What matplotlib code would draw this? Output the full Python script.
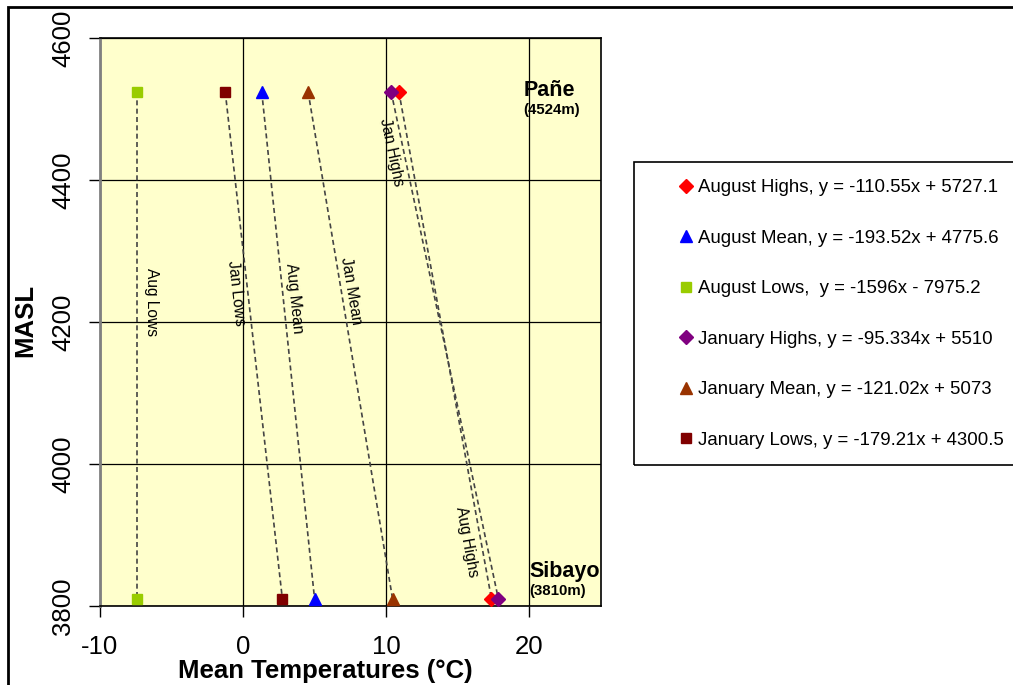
import numpy as np
import matplotlib
matplotlib.use("Agg")
import matplotlib.pyplot as plt
from matplotlib.patches import Rectangle

plt.rcParams['font.family'] = ['Liberation Sans', 'DejaVu Sans']
plt.rcParams['axes.unicode_minus'] = False

# altitude of the two stations (m)
elev = [4524, 3810]

series = ["August Highs", "August Mean", "August Lows",
          "January Highs", "January Mean", "January Lows"]
short = ["Aug Highs", "Aug Mean", "Aug Lows", "Jan Highs", "Jan Mean", "Jan Lows"]
fits = ["y = -110.55x + 5727.1", "y = -193.52x + 4775.6", " y = -1596x - 7975.2",
        "y = -95.334x + 5510", "y = -121.02x + 5073", "y = -179.21x + 4300.5"]

# mean temperature at Pañe / Sibayo
temps = {
    "August Highs": [10.88, 17.35],
    "August Mean": [1.30, 4.99],
    "August Lows": [-7.40, -7.40],
    "January Highs": [10.34, 17.83],
    "January Mean": [4.54, 10.44],
    "January Lows": [-1.25, 2.74],
}

colors = ["#FF0000", "#0000FF", "#99CC00", "#800080", "#993300", "#800000"]
markers = ["D", "^", "s", "D", "^", "s"]
msizes = [7.5, 8.5, 7, 7.5, 8.5, 7]

# where the line labels sit (x, y)
label_pos = {
    "Aug Highs": (15.6, 3891),
    "Aug Mean": (3.57, 4234),
    "Aug Lows": (-6.43, 4228),
    "Jan Highs": (10.35, 4439),
    "Jan Mean": (7.55, 4244),
    "Jan Lows": (-0.5, 4241),
}

fig = plt.figure(figsize=(10.13, 6.85), dpi=100)
ax = fig.add_axes([100 / 1013, 1 - 606 / 685, 501 / 1013, 568 / 685])
ax.set_facecolor("#FFFFCC")
ax.set_xlim(-10, 25)
ax.set_ylim(3800, 4600)
ax.set_xticks([-10, 0, 10, 20])
ax.set_yticks([3800, 4000, 4200, 4400, 4600])
ax.grid(True, color="black", lw=0.9)
ax.set_axisbelow(True)

handles = []
for i, name in enumerate(series):
    xs = temps[name]
    ax.plot(xs, elev, color="#444444", lw=1.2, dashes=(3, 2), zorder=2)
    h, = ax.plot(xs, elev, ls="none", marker=markers[i], ms=msizes[i],
                 color=colors[i], zorder=3)
    handles.append(h)
    lx, ly = label_pos[short[i]]
    ang = np.degrees(np.arctan2(elev[1] - elev[0], xs[1] - xs[0]))
    ax.text(lx, ly, short[i], fontsize=11.2, ha="center", va="center",
            rotation=ang, transform_rotates_text=True, rotation_mode="anchor",
            zorder=4)

ax.text(19.58, 4518, "Pañe", fontsize=15.5, fontweight="bold")
ax.text(19.58, 4493, "(4524m)", fontsize=10.8, fontweight="bold")
ax.text(20.0, 3841, "Sibayo", fontsize=15.5, fontweight="bold")
ax.text(20.0, 3815, "(3810m)", fontsize=10.8, fontweight="bold")

for s in ax.spines.values():
    s.set_color("black")
    s.set_linewidth(1.2)
ax.spines["left"].set_color("#808080")
ax.spines["left"].set_linewidth(2)

ax.tick_params(axis="both", direction="out", length=8, width=1, labelsize=18.5)
ax.tick_params(axis="x", pad=13)
ax.tick_params(axis="y", pad=10)
for t in ax.get_yticklabels():
    t.set_rotation(90)
    t.set_va("center")

ax.set_xlabel("Mean Temperatures (°C)", fontsize=18.5, fontweight="bold")
ax.xaxis.set_label_coords(0.449, -0.094)
ax.set_ylabel("MASL", fontsize=18.5, fontweight="bold")
ax.yaxis.set_label_coords(-0.125, 0.502)

labels = [f"{s}, {f}" for s, f in zip(series, fits)]
leg = fig.legend(handles, labels, loc="upper left",
                 bbox_to_anchor=(679 / 1013, 1 - 179 / 685),
                 frameon=False, fontsize=13.4, handlelength=0.7,
                 handletextpad=0.3, labelspacing=1.8, markerscale=0.95,
                 borderpad=0, borderaxespad=0)

fig.patches.append(Rectangle((634 / 1013, 1 - 465 / 685), 0.5, 303 / 685,
                             transform=fig.transFigure, fill=False,
                             edgecolor="black", lw=1.2))
fig.patches.append(Rectangle((7.5 / 1013, -0.1), 1.2, 1 - 7 / 685 + 0.1,
                             transform=fig.transFigure, fill=False,
                             edgecolor="black", lw=2))

fig.savefig("out.png", dpi=100)
